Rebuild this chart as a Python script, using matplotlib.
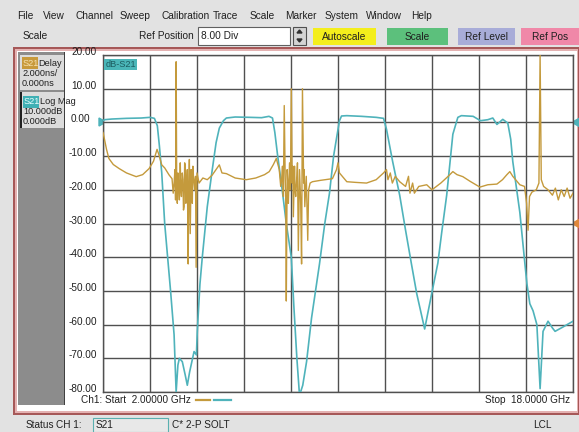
import matplotlib.pyplot as plt
from matplotlib.patches import Rectangle, Polygon

W, H = 579, 432

# S21 log magnitude trace (GHz, dB)
mag_freq = [2.00, 2.05, 2.3, 2.8, 3.3, 3.6, 3.75, 3.85, 3.92, 4.0, 4.1, 4.2, 4.3, 4.42,
            4.49, 4.55, 4.6, 4.7, 4.8, 4.87, 4.95, 5.05, 5.10, 5.18, 5.21, 5.3, 5.38,
            5.55, 5.72, 5.85, 5.96, 6.1, 6.2, 6.5, 7.0, 7.4, 7.65, 7.77, 7.85, 7.94,
            8.1, 8.24, 8.41, 8.5, 8.6, 8.69, 8.8, 8.93, 9.1, 9.37, 9.55, 9.71, 9.85,
            9.95, 10.05, 10.12, 10.3, 10.8, 11.3, 11.55, 11.65, 11.86, 12.1, 12.3,
            12.5, 12.68, 12.95, 13.19, 13.4, 13.53, 13.70, 13.91, 14.08, 14.2, 14.6,
            14.85, 15.1, 15.27, 15.41, 15.61, 15.78, 15.88, 15.95, 16.19, 16.36,
            16.43, 16.53, 16.64, 16.77, 16.88, 16.98, 17.15, 17.3, 17.39, 17.66, 18.0]
mag_db = [0.5, 0.8, 1.0, 1.2, 1.3, 1.5, 1.2, -1, -7, -15, -30, -40, -50, -63,
          -80, -72, -70, -71, -75, -78, -74, -70, -68, -69, -62, -48, -40,
          -25, -14, -6, -1.7, 0.5, 1.3, 1.6, 1.5, 1.4, 1.8, 1.3, -3, -9.5,
          -20, -30, -40, -55, -70, -81, -78, -71, -58, -42, -30, -21, -10,
          -4.7, 0.5, 1.9, 2.0, 1.8, 1.5, 1.2, -2, -11.6, -21.6, -32,
          -42, -50.8, -61.3, -50.8, -41.7, -32.7, -21.6, -3.5, 1.5, 2.0, 1.8,
          0.5, 0.8, 1.3, -0.6, 0.9, -0.2, -5, -11.6, -26.7, -41.7,
          -47.8, -53.8, -55.9, -60, -79, -62, -59, -61, -62, -60.7, -59]

# S21 group delay trace (GHz, ns)
delay_freq = [2.00, 2.05, 2.12, 2.2, 2.35, 2.55, 2.8, 3.13, 3.35, 3.57, 3.72, 3.84, 3.9,
              4.0, 4.1, 4.25, 4.35, 4.39, 4.42, 4.45, 4.47, 4.49, 4.51, 4.53, 4.55, 4.58,
              4.6, 4.63, 4.65, 4.67, 4.7, 4.72, 4.74, 4.76, 4.78, 4.8, 4.82, 4.84, 4.87,
              4.9, 4.92, 4.94, 4.97, 5.0, 5.02, 5.04, 5.06, 5.08, 5.12, 5.15, 5.17, 5.2,
              5.27, 5.4, 5.55, 5.72, 5.85, 5.96, 6.05, 6.2, 6.5, 6.88, 7.2, 7.5, 7.66,
              7.8, 7.9, 8.0, 8.05, 8.08, 8.11, 8.14, 8.17, 8.2, 8.22, 8.24, 8.27, 8.29,
              8.31, 8.35, 8.38, 8.41, 8.44, 8.46, 8.48, 8.52, 8.54, 8.56, 8.6, 8.62,
              8.65, 8.69, 8.73, 8.76, 8.79, 8.83, 8.85, 8.87, 8.92, 8.97, 9.0, 9.05,
              9.13, 9.4, 9.81, 9.95, 10.0, 10.05, 10.3, 10.6,
              10.97, 11.3, 11.55, 11.65, 11.7, 11.78, 11.85, 11.95, 12.1, 12.3, 12.4,
              12.45, 12.54, 12.6, 12.75, 13.02, 13.2, 13.5, 13.75, 13.91, 14.05, 14.25,
              14.5, 14.83, 15.1, 15.41, 15.6, 15.75, 15.85, 15.95, 16.19, 16.35, 16.42,
              16.47, 16.52, 16.6, 16.75, 16.84, 16.88, 16.92, 17.0, 17.15, 17.3, 17.4,
              17.5, 17.6, 17.7, 17.8, 17.9, 18.0]
delay_ns = [5.4, 5.0, 4.4, 3.86, 3.5, 3.26, 3.0, 2.78, 2.9, 3.26, 3.7, 4.4, 4.1,
            3.48, 3.3, 2.88, 2.66, 1.8, 2.4, 3.2, 1.4, 9.6, 2.0, 1.2, 3.0, 2.2,
            1.4, 3.6, 2.0, 1.6, 3.0, 2.6, 0.8, 1.0, 3.6, 3.4, 1.2, 1.6, 3.2,
            -2.4, 2.2, 3.8, -0.6, 3.2, 2.0, 1.2, 3.4, 2.8, 2.0, 2.8, -2.6, 3.0,
            2.4, 2.7, 2.6, 2.88, 3.2, 3.48, 3.0, 2.96, 2.7, 2.6, 2.7, 2.9, 3.08,
            3.5, 3.86, 3.2, 2.2, 2.6, 3.4, 1.6, 7.0, 3.0, 1.4, -4.6, 3.2, 2.4,
            1.2, 3.6, 2.0, 8.0, 2.4, 3.4, 0.4, 3.4, 2.0, 1.6, 2.8, 3.6,
            -1.6, 3.2, 1.2, -2.4, 8.0, 2.4, 3.2, 1.0, 2.8, -1.0, 2.0, 2.4,
            2.48, 2.56, 2.66, 3.2, 3.6, 3.0, 2.48, 2.44,
            2.4, 2.6, 3.0, 3.2, 2.6, 3.0, 2.4, 2.8, 2.48, 2.2, 2.8,
            1.8, 2.4, 1.8, 2.2, 2.3, 2.0, 2.4, 2.8, 3.08, 2.9, 2.78,
            2.5, 2.16, 2.3, 2.34, 2.6, 2.9, 3.08, 2.8, 2.3, 2.2, 1.2,
            -0.4, 1.6, 1.86, 2.0, 2.4, 10.0, 2.6, 2.2, 2.0, 1.68, 2.1,
            1.4, 2.0, 1.6, 2.1, 1.5, 1.8]

db_ticks = [20, 10, 0, -10, -20, -30, -40, -50, -60, -70, -80]
db_labels = ["20.00", "10.00", "0.00", "-10.00", "-20.00", "-30.00",
             "-40.00", "-50.00", "-60.00", "-70.00", "-80.00"]
f_start, f_stop = 2.0, 18.0
delay_scale, delay_ref_db = 2.0, -30.0   # 2 ns/div, reference at -30 dB line

menu_items = ["File", "View", "Channel", "Sweep", "Calibration", "Trace",
              "Scale", "Marker", "System", "Window", "Help"]
menu_x = [17, 43, 76, 120, 161, 213, 250, 285, 325, 366, 411]

TEAL = "#4fb3bb"
GOLD = "#c49a3c"
FONT = "Liberation Sans"

# plot box in pixels
PX0, PX1, PY0, PY1 = 103, 573, 55, 392


def py(db):
    return PY0 + (20 - db) * (PY1 - PY0) / 100.0


fig = plt.figure(figsize=(W / 100, H / 100), dpi=100)
fig.patch.set_facecolor("#e2e2e2")

bg = fig.add_axes([0, 0, 1, 1])
bg.set_xlim(0, W)
bg.set_ylim(H, 0)
bg.axis("off")


def box(x0, y0, x1, y1, fc, ec="none", lw=0.0, z=1):
    r = Rectangle((x0, y0), x1 - x0, y1 - y0, facecolor=fc, edgecolor=ec,
                  linewidth=lw, zorder=z)
    bg.add_patch(r)
    return r


def txt(x, y, s, size=7.2, color="#202020", ha="left", z=5, **kw):
    return bg.text(x, y, s, fontsize=size, color=color, ha=ha, va="center",
                   family=FONT, zorder=z, **kw)


# menu bar
for name, x in zip(menu_items, menu_x):
    txt(x, 16, name, size=7.3)

# toolbar
txt(23, 36, "Scale", size=7.3)
txt(194, 36, "Ref Position", size=7.3, ha="right")
box(198, 27, 290, 45, "white", ec="#606060", lw=0.8)
txt(201, 36, "8.00 Div", size=7.3)
box(293, 27, 306, 45, "#d4d4d4", ec="#505050", lw=0.8)
bg.add_patch(Polygon([(297, 33), (302, 33), (299.5, 30)], color="#303030", zorder=3))
bg.add_patch(Polygon([(297, 39), (302, 39), (299.5, 42)], color="#303030", zorder=3))
buttons = [("Autoscale", 313, 376, "#f4ee1c"), ("Scale", 387, 448, "#5cc07c"),
           ("Ref Level", 458, 515, "#a8acd8"), ("Ref Pos", 521, 579, "#f088a8")]
for label, x0, x1, c in buttons:
    box(x0, 28, x1, 45, c, z=2)
    txt((x0 + x1) / 2, 36.5, label, size=7.3, ha="center")

# channel window frame
box(13, 47, 579, 415, "#a65858")
box(15, 49, 578, 413, "#e4b2b2")
box(17, 51, 577, 411, "white")

# left trace panel
box(18, 52, 64, 405, "#8c8c8c", z=2)
box(64, 52, 65, 405, "#404040", z=2)
b1 = box(20, 55, 64, 90, "#dcdcdc", z=3)
b2 = box(20, 92, 64, 128, "#dcdcdc", z=3)
box(20, 92, 22, 128, "#202020", z=4)
box(22, 57, 38, 69, "#c89a3c", z=4)
box(23, 96, 39, 108, "#3fb0b4", z=4)
txt(23, 63, "S21", size=6.6, color="#f6e2b0")
t = txt(38.5, 63, "Delay", size=6.6)
t.set_clip_path(b1)
txt(22, 74, "2.000ns/", size=6.6)
txt(22, 83.5, "0.000ns", size=6.6)
txt(24, 102, "S21", size=6.6, color="#e8ffff")
t = txt(40, 102, "Log Mag", size=6.6)
t.set_clip_path(b2)
txt(23, 112, "10.000dB", size=6.6)
txt(23, 121.5, "0.000dB", size=6.6)

# y scale labels
for v, s in zip(db_ticks, db_labels):
    txt(69 if s.startswith("-") else 71, py(v) - 3, s, size=7.2)

# plot
ax = fig.add_axes([PX0 / W, 1 - PY1 / H, (PX1 - PX0) / W, (PY1 - PY0) / H])
ax.set_xlim(f_start, f_stop)
ax.set_ylim(-80, 20)
ax.set_xticks([f_start + i * (f_stop - f_start) / 10 for i in range(11)])
ax.set_yticks(db_ticks)
ax.tick_params(length=0, labelbottom=False, labelleft=False)
ax.grid(True, color="#505050", linewidth=1.0)
for sp in ax.spines.values():
    sp.set_color("#505050")
    sp.set_linewidth(1.0)

delay_y = [d / delay_scale * 10 + delay_ref_db for d in delay_ns]
ax.plot(mag_freq, mag_db, color=TEAL, linewidth=1.2, zorder=3)
ax.plot(delay_freq, delay_y, color=GOLD, linewidth=1.0, zorder=4)

ax.text(0.005, 0.985, "dB-S21", transform=ax.transAxes, fontsize=6.6,
        family=FONT, color="#1c5c60", va="top", ha="left",
        bbox=dict(boxstyle="square,pad=0.15", fc="#4ab6b8", ec="none"), zorder=6)

# marker readout
txt(432, 62, "1:", size=7.0, color="#b89848", ha="right", z=6)
txt(448, 62, "10.000000 GHz", size=7.0, color="#b89848", z=6)
txt(535, 62, "3.206 ns", size=7.0, color="#b89848", z=6)

# reference arrows
bg.add_patch(Polygon([(99, 118), (99, 126), (106, 122)], color=TEAL, zorder=6))
bg.add_patch(Polygon([(579, py(0) - 4), (579, py(0) + 4), (572, py(0))], color=TEAL, zorder=6))
bg.add_patch(Polygon([(579, py(-30) - 4), (579, py(-30) + 4), (572, py(-30))],
                     color="#e0883c", zorder=6))

# footer of channel window
txt(81, 400, "Ch1: Start  2.00000 GHz", size=7.2)
bg.plot([196, 210], [400, 400], color=GOLD, linewidth=1.6)
bg.plot([214, 231], [400, 400], color=TEAL, linewidth=1.6)
txt(570, 400, "Stop  18.0000 GHz", size=7.2, ha="right")

# status bar
txt(26, 424.5, "Status", size=7.2)
txt(56, 424.5, "CH 1:", size=7.2)
box(93, 418, 168, 432, "#e8e8e8", ec="#5ab0b0", lw=0.8)
txt(96, 424.5, "S21", size=7.2)
txt(172, 424.5, "C* 2-P SOLT", size=7.2)
txt(533, 424.5, "LCL", size=7.2)

fig.savefig("out.png", dpi=100, facecolor=fig.get_facecolor())
